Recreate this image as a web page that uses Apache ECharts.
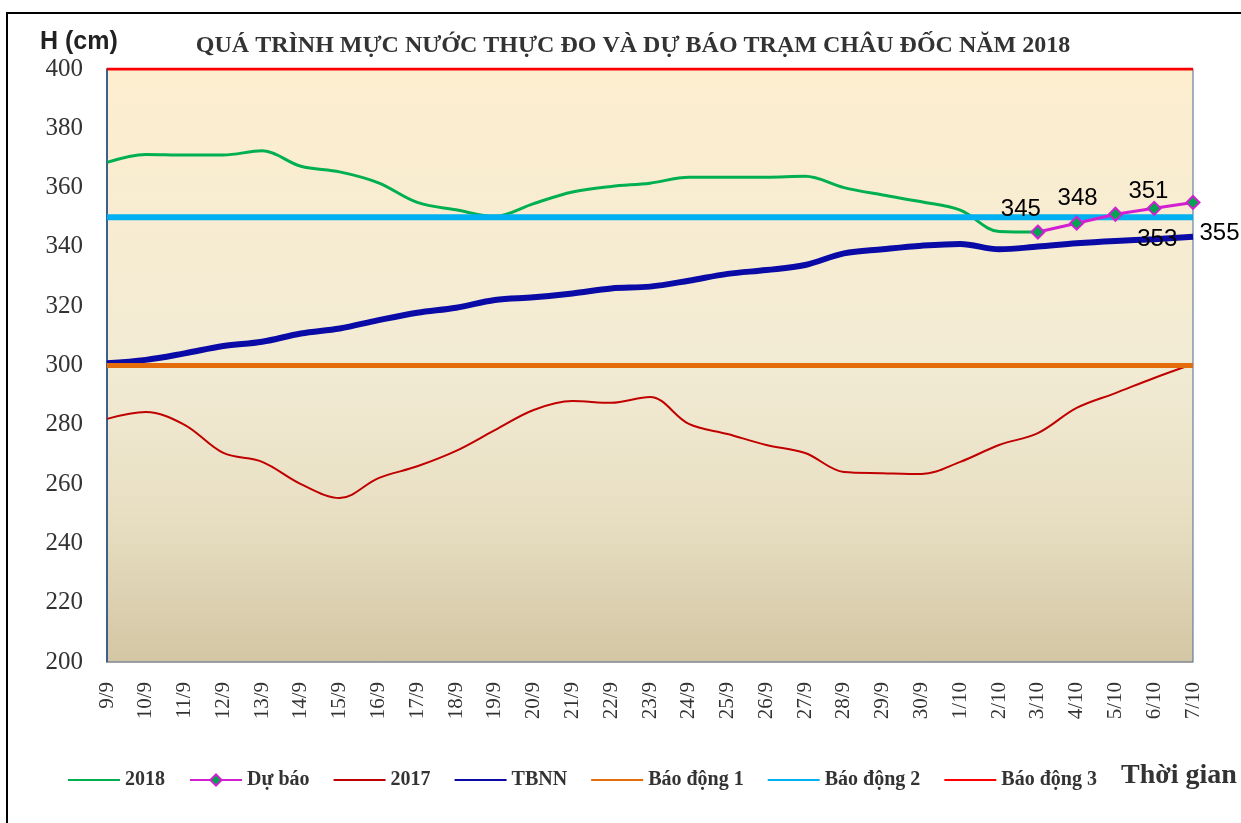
<!DOCTYPE html>
<html>
<head>
<meta charset="utf-8">
<script src="https://cdn.jsdelivr.net/npm/echarts@6/dist/echarts.min.js"></script>
<style>
  html, body { margin: 0; padding: 0; background: #fff; }
  #main { width: 1241px; height: 823px; }
</style>
</head>
<body>
<div id="main"></div>
<script>
// trục thời gian
var days = ['9/9', '10/9', '11/9', '12/9', '13/9', '14/9', '15/9', '16/9', '17/9', '18/9',
  '19/9', '20/9', '21/9', '22/9', '23/9', '24/9', '25/9', '26/9', '27/9', '28/9', '29/9',
  '30/9', '1/10', '2/10', '3/10', '4/10', '5/10', '6/10', '7/10'];

// mực nước thực đo 2018 (đến 3/10)
var h2018 = [368.5, 371.2, 371, 371, 372.4, 367.2, 365.3, 361.6, 355, 352.5, 350.3, 354.6,
  358.5, 360.4, 361.5, 363.5, 363.5, 363.5, 363.8, 360, 357.5, 355.2, 352.4, 345.2, 345];

// dự báo 3/10 -> 7/10
var forecast = [345, 348, 351, 353, 355];

// cùng kỳ 2017
var h2017 = [282, 284.3, 280, 270.5, 267.5, 260, 255.3, 262, 266, 271.2, 278.2, 285, 288,
  287.4, 289.4, 280.3, 276.9, 273.2, 270.5, 264.1, 263.7, 263.4, 267.5, 273.2, 277.2,
  285.7, 290.7, 295.8, 300.5];

// trung bình nhiều năm
var tbnn = [300.8, 301.9, 304.1, 306.6, 308, 310.8, 312.5, 315.3, 317.8, 319.5, 322.1, 323,
  324.3, 326, 326.6, 328.6, 330.9, 332.2, 333.9, 337.8, 339.2, 340.4, 341, 339.2, 340.1,
  341.2, 342, 342.6, 343.4];

// mức báo động
var alarm1 = 300, alarm2 = 350, alarm3 = 400;

var myChart = echarts.init(document.getElementById('main'));

function flat(v) {
  return days.map(function () { return v; });
}

//dự báo bắt đầu từ ngày 3/10, các ngày trước để trống
var fcStart = days.indexOf('3/10');
//vị trí nhãn lệch như trong bản gốc
var fcLabel = [
  { position: 'top', offset: [-17, 2] },
  { position: 'top', offset: [1, 0] },
  { position: 'top', offset: [33, 2] },
  { position: 'bottom', offset: [3, 7] },
  { position: 'right', offset: [-6, 31] }
];
var fcData = days.map(function () { return null; });
forecast.forEach(function (v, i) {
  fcData[fcStart + i] = { value: v, label: fcLabel[i] };
});

var serif = '"Liberation Serif", "Times New Roman", serif';

//chỉ "Dự báo" có ký hiệu trên chú giải, các đường khác chỉ là một vạch mảnh
var lineIcon = 'path://M0,0M0,6H52V8H0ZM52,14';
var legendNames = ['2018', 'Dự báo', '2017', 'TBNN', 'Báo động 1', 'Báo động 2', 'Báo động 3'];
var legendData = legendNames.map(function (n) {
  return n == 'Dự báo' ? { name: n } : { name: n, icon: lineIcon };
});

var option = {
  animation: false,
  title: {
    text: 'QUÁ TRÌNH MỰC NƯỚC THỰC ĐO VÀ DỰ BÁO TRẠM CHÂU ĐỐC NĂM 2018',
    left: 628,
    textAlign: 'center',
    top: 29,
    textStyle: { fontFamily: serif, fontWeight: 'bold', fontSize: 24, color: '#333' }
  },
  graphic: [
    {
      type: 'rect', silent: true, z: -1,
      shape: { x: 7, y: 13, width: 1400, height: 1000 },
      style: { fill: null, stroke: '#000', lineWidth: 2 }
    },
    {
      type: 'text', left: 40, top: 30,
      style: { text: 'H (cm)', font: 'bold 25px "Liberation Sans", Arial, sans-serif', fill: '#222' }
    },
    {
      type: 'text', left: 1121, top: 762,
      style: { text: 'Thời gian', font: 'bold 28px ' + serif, fill: '#333' }
    }
  ],
  legend: {
    left: 63,
    top: 765,
    itemWidth: 52,
    itemHeight: 14,
    itemGap: 24,
    lineStyle: { width: 2 },
    textStyle: { fontFamily: serif, fontWeight: 'bold', fontSize: 20, color: '#333' },
    data: legendData
  },
  grid: {
    left: 107, right: 48, top: 69, bottom: 161,
    show: true,
    borderColor: '#4a6b95',
    borderWidth: 1,
    backgroundColor: new echarts.graphic.LinearGradient(0, 0, 0, 1, [
      { offset: 0, color: '#fdeecf' },
      { offset: 0.5, color: '#f2ebd4' },
      { offset: 0.75, color: '#e8dfc3' },
      { offset: 1, color: '#d3c6a4' }
    ])
  },
  xAxis: {
    type: 'category',
    data: days,
    boundaryGap: false,
    axisLine: { lineStyle: { color: '#a3a3a3', width: 1 } },
    axisTick: { show: false },
    axisLabel: {
      rotate: 90, margin: 20, interval: 0,
      fontFamily: serif, fontSize: 21, color: '#333'
    },
    splitLine: { show: false }
  },
  yAxis: {
    type: 'value',
    min: 200, max: 400, interval: 20,
    axisLine: { show: true, lineStyle: { color: '#3d5f8c', width: 2 } },
    axisTick: { show: false },
    axisLabel: { margin: 24, fontFamily: serif, fontSize: 25, color: '#333' },
    splitLine: { show: false }
  },
  series: [
    {
      name: '2018', type: 'line', data: h2018, symbol: 'none', smooth: 0.35,
      lineStyle: { color: '#00b050', width: 3 }, itemStyle: { color: '#00b050' }, z: 2
    },
    {
      name: '2017', type: 'line', data: h2017, symbol: 'none', smooth: 0.35,
      lineStyle: { color: '#c00000', width: 2 }, itemStyle: { color: '#c00000' }, z: 2
    },
    {
      name: 'TBNN', type: 'line', data: tbnn, symbol: 'none', smooth: 0.35,
      lineStyle: { color: '#0a0aa6', width: 6 }, itemStyle: { color: '#0a0aa6' }, z: 2
    },
    {
      name: 'Báo động 1', type: 'line', data: flat(alarm1), symbol: 'none',
      lineStyle: { color: '#e46c0a', width: 5 }, itemStyle: { color: '#e46c0a' }, z: 3
    },
    {
      name: 'Báo động 2', type: 'line', data: flat(alarm2), symbol: 'none',
      lineStyle: { color: '#00b0f0', width: 6 }, itemStyle: { color: '#00b0f0' }, z: 3
    },
    {
      name: 'Báo động 3', type: 'line', data: flat(alarm3), symbol: 'none',
      lineStyle: { color: '#ff0000', width: 3 }, itemStyle: { color: '#ff0000' }, z: 3
    },
    {
      name: 'Dự báo', type: 'line', data: fcData, symbol: 'diamond', symbolSize: 13,
      lineStyle: { color: '#d21fd2', width: 3 },
      itemStyle: { color: '#00a550', borderColor: '#d21fd2', borderWidth: 2 },
      label: {
        show: true, color: '#000', fontSize: 24,
        fontFamily: '"Liberation Sans", Arial, sans-serif'
      },
      z: 4
    }
  ]
};

myChart.setOption(option);
</script>
</body>
</html>
